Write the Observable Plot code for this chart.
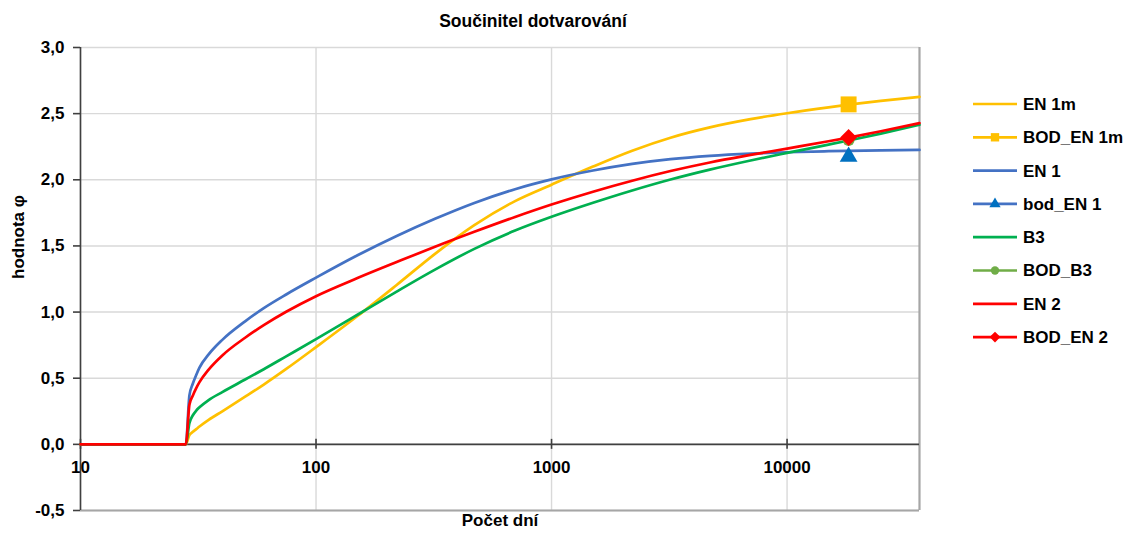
<!DOCTYPE html>
<html>
<head>
<meta charset="utf-8">
<script src="https://cdn.jsdelivr.net/npm/d3@7"></script>
<script src="https://cdn.jsdelivr.net/npm/@observablehq/plot@0.6"></script>
<style>
  html, body { margin: 0; padding: 0; background: #fff; }
  #chart { position: relative; width: 1139px; height: 541px; font-family: "Liberation Sans", Arial, sans-serif; }
</style>
</head>
<body>
<div id="chart"></div>
<script>
// Age of concrete in days (log axis); loading starts at 28 days
const days = [10, 28, 29, 30, 31, 32, 35, 40, 50, 60, 75, 100, 150, 220, 320, 470, 700,
              1000, 1500, 2200, 3200, 4700, 7000, 10000, 15000, 18250, 25000, 36500];

// Creep coefficient φ(t, 28) for each model
const en1m = [0, 0, 0.07, 0.095, 0.115, 0.135, 0.185, 0.25, 0.36, 0.452, 0.572, 0.735, 0.97, 1.205, 1.44, 1.657, 1.839,
              1.963, 2.10, 2.22, 2.318, 2.396, 2.458, 2.503, 2.548, 2.568, 2.597, 2.627];
const en1  = [0, 0, 0.37, 0.46, 0.525, 0.58, 0.68, 0.79, 0.93, 1.03, 1.135, 1.26, 1.429, 1.575, 1.705, 1.825, 1.929,
              2.003, 2.07, 2.12, 2.156, 2.181, 2.198, 2.208, 2.216, 2.219, 2.223, 2.226];
const b3   = [0, 0, 0.16, 0.22, 0.255, 0.28, 0.335, 0.395, 0.49, 0.568, 0.667, 0.795, 0.98, 1.155, 1.321, 1.478, 1.616,
              1.72, 1.826, 1.919, 2.002, 2.077, 2.146, 2.203, 2.266, 2.297, 2.349, 2.416];
const en2  = [0, 0, 0.30, 0.37, 0.425, 0.47, 0.565, 0.672, 0.806, 0.901, 1.004, 1.12, 1.257, 1.378, 1.494, 1.607, 1.719,
              1.813, 1.91, 1.993, 2.066, 2.131, 2.188, 2.236, 2.291, 2.319, 2.367, 2.428];

const seriesNames = ["EN 1m", "EN 1", "B3", "EN 2"];
const seriesValues = [en1m, en1, b3, en2];

// Single evaluated points at 50 years
const pointNames = ["BOD_EN 1m", "bod_EN 1", "BOD_B3", "BOD_EN 2"];
const pointDays = [18250, 18250, 18250, 18250];
const pointValues = [2.57, 2.19, 2.30, 2.32];

const xTicks = [10, 100, 1000, 10000];
const yTicks = [-0.5, 0, 0.5, 1, 1.5, 2, 2.5, 3];
const xDomain = [10, 36500];
const yDomain = [-0.5, 3];

const titleText = "Součinitel dotvarování";
const xLabel = "Počet dní";
const yLabel = "hodnota φ";

// Styling
const lineColors = ["#FFC000", "#4472C4", "#00B050", "#FF0000"];
const pointStyles = [
  {fill: "#FFC000", line: "#FFC000", symbol: "square", r: 9, dy: 0},
  {fill: "#0070C0", line: "#4472C4", symbol: "triangle", r: 6.6, dy: 2},
  {fill: "#70AD47", line: "#70AD47", symbol: "circle", r: 6, dy: 0},
  {fill: "#FF0000", line: "#FF0000", symbol: "diamond2", r: 7.6, dy: 0}
];
const font = "'Liberation Sans', Arial, sans-serif";

const lineRows = seriesNames.flatMap((name, s) =>
  days.map((day, i) => ({name, day, value: seriesValues[s][i]})));
const pointRows = pointNames.map((name, i) => ({name, day: pointDays[i], value: pointValues[i], style: pointStyles[i]}));

const fmt = d => d.toFixed(1).replace(".", ",");

const plot = Plot.plot({
  width: 1139,
  height: 541,
  marginLeft: 80,
  marginRight: 220,
  marginTop: 47,
  marginBottom: 31,
  style: {fontFamily: font, fontSize: "17px", fontWeight: "bold", color: "#000", background: "transparent", overflow: "visible"},
  x: {type: "log", domain: xDomain, axis: null},
  y: {domain: yDomain, axis: null},
  color: {domain: seriesNames, range: lineColors},
  marks: [
    // grid
    Plot.ruleY(yTicks, {stroke: "#d9d9d9", strokeWidth: 1.4}),
    Plot.ruleX(xTicks, {stroke: "#d9d9d9", strokeWidth: 1.4}),
    // plot-area border
    Plot.ruleY([yDomain[0]], {stroke: "#a6a6a6", strokeWidth: 2.2}),
    Plot.ruleX([xDomain[1]], {stroke: "#a6a6a6", strokeWidth: 2.2}),
    // axes
    Plot.ruleX([xDomain[0]], {stroke: "#404040", strokeWidth: 1.6}),
    Plot.ruleY([0], {stroke: "#404040", strokeWidth: 1.6}),
    Plot.ruleX(xTicks, {x: d => d, y1: 0, y2: 0, insetTop: -5, insetBottom: -5, stroke: "#404040", strokeWidth: 1.6}),
    Plot.axisY({ticks: yTicks, tickFormat: fmt, tickSize: 7, tickPadding: 9, stroke: "#404040", strokeWidth: 1.6, fill: "#000", label: null, fontSize: 17}),
    Plot.text(xTicks, {x: d => d, y: 0, dy: 23, text: d => String(d), fill: "#000", fontSize: 17}),
    // curves
    Plot.line(lineRows, {x: "day", y: "value", z: "name", stroke: "name", strokeWidth: 2.7, curve: "monotone-x"}),
    // evaluated points
    ...pointRows.map(p => Plot.dot([p], {x: "day", y: "value", symbol: p.style.symbol, r: p.style.r, fill: p.style.fill, stroke: null, dy: p.style.dy})),
    // titles
    Plot.text([titleText], {frameAnchor: "top", dx: 33, dy: -33, fontSize: 17.5, fill: "#000"}),
    Plot.text([xLabel], {frameAnchor: "bottom", dy: 15, fontSize: 17, fill: "#000"}),
    Plot.text([yLabel], {frameAnchor: "left", dx: -62, rotate: -90, fontSize: 17, fill: "#000"})
  ]
});
plot.style.position = "absolute";
plot.style.left = "0px";
plot.style.top = "0px";
document.getElementById("chart").appendChild(plot);

// Legend
const legendNames = ["EN 1m", "BOD_EN 1m", "EN 1", "bod_EN 1", "B3", "BOD_B3", "EN 2", "BOD_EN 2"];
const legendItems = legendNames.map((name, i) => {
  const s = Math.floor(i / 2);
  return i % 2 === 0
    ? {name, line: lineColors[s], marker: null}
    : {name, line: pointStyles[s].line, marker: pointStyles[s]};
});
const symbolTypes = {square: d3.symbolSquare, triangle: d3.symbolTriangle, circle: d3.symbolCircle, diamond2: d3.symbolDiamond2 || d3.symbolDiamond};
const legendSizes = {square: 70, triangle: 55, circle: 55, diamond2: 75};

const lg = d3.select("#chart").append("svg")
  .attr("width", 179)
  .attr("height", 280)
  .style("position", "absolute")
  .style("left", "960px")
  .style("top", "80px")
  .style("font-family", font)
  .style("font-size", "17px")
  .style("font-weight", "bold");

const step = 33.3;
const row = lg.selectAll("g").data(legendItems).join("g")
  .attr("transform", (d, i) => `translate(0,${24 + i * step})`);
row.append("line")
  .attr("x1", 13).attr("x2", 57)
  .attr("stroke", d => d.line).attr("stroke-width", 2.7);
row.filter(d => d.marker).append("path")
  .attr("transform", "translate(35,0)")
  .attr("d", d => d3.symbol(symbolTypes[d.marker.symbol], legendSizes[d.marker.symbol])())
  .attr("fill", d => d.marker.fill);
row.append("text")
  .attr("x", 63)
  .attr("dy", "0.35em")
  .attr("fill", "#000")
  .text(d => d.name);
</script>
</body>
</html>
